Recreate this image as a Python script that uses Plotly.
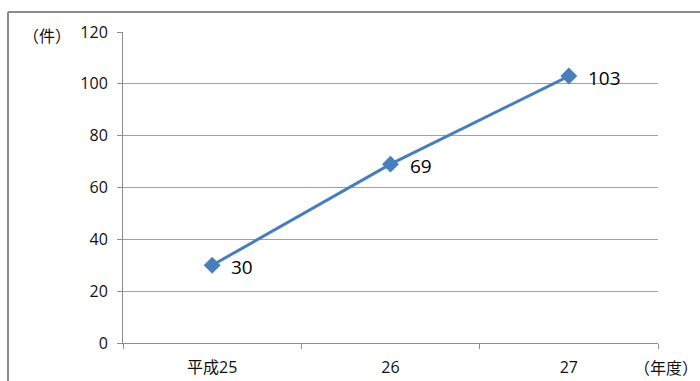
import plotly.graph_objects as go

# Annual case counts by fiscal year (Heisei era)
years = ["平成25", "26", "27"]
cases = [30, 69, 103]
y_ticks = [0, 20, 40, 60, 80, 100, 120]

W, H = 700, 381
L, R, T, B = 123, 42, 32, 38
pw, ph = W - L - R, H - T - B


def px(x):
    return (x - L) / pw


def py(y):
    return (H - B - y) / ph


fig = go.Figure()
fig.add_trace(go.Scatter(
    x=years, y=cases,
    mode="lines+markers",
    line=dict(color="#4a7ebb", width=3),
    marker=dict(symbol="diamond", size=13, color="#4a7ebb"),
    cliponaxis=False,
    hoverinfo="skip",
))

# value labels beside each point (x given as category index)
labels = [
    dict(text=str(v), x=i, y=v, xref="x", yref="y", xanchor="left",
         yanchor="middle", xshift=17, yshift=-2, showarrow=False,
         font=dict(size=19, color="#000000"))
    for i, v in enumerate(cases)
]

fig.update_layout(
    width=W, height=H,
    margin=dict(l=L, r=R, t=T, b=B, autoexpand=False),
    paper_bgcolor="white", plot_bgcolor="white",
    showlegend=False,
    font=dict(family="Open Sans, Noto Sans CJK JP", size=16, color="#111111"),
    xaxis=dict(
        type="category", range=[-0.5, 2.5], automargin=False,
        showgrid=False, showline=True, linecolor="#8c8c8c", linewidth=1,
        ticks="outside", tickson="boundaries", ticklen=5, tickcolor="#8c8c8c",
        ticklabelstandoff=10, zeroline=False,
    ),
    yaxis=dict(
        range=[0, 120], tickvals=y_ticks, automargin=False,
        showgrid=True, gridcolor="#a0a0a0", gridwidth=1,
        showline=True, linecolor="#8c8c8c", linewidth=1,
        ticks="outside", ticklen=5, tickcolor="#8c8c8c",
        ticklabelstandoff=6, zeroline=False,
    ),
    annotations=labels + [
        dict(text="（件）", x=px(47), y=py(35), xref="paper", yref="paper",
             xanchor="center", yanchor="middle",
             showarrow=False, font=dict(size=16, family="Noto Sans CJK JP")),
        dict(text="（年度）", x=px(666), y=py(367), xref="paper", yref="paper",
             xanchor="center", yanchor="middle",
             showarrow=False, font=dict(size=16, family="Noto Sans CJK JP")),
    ],
    shapes=[
        dict(type="line", xref="paper", yref="paper",
             x0=px(8), y0=py(H + 5), x1=px(8), y1=py(12),
             line=dict(color="#8c8c8c", width=2)),
        dict(type="line", xref="paper", yref="paper",
             x0=px(8), y0=py(12), x1=px(W + 5), y1=py(12),
             line=dict(color="#8c8c8c", width=2)),
    ],
)

fig.write_html("out.html")
